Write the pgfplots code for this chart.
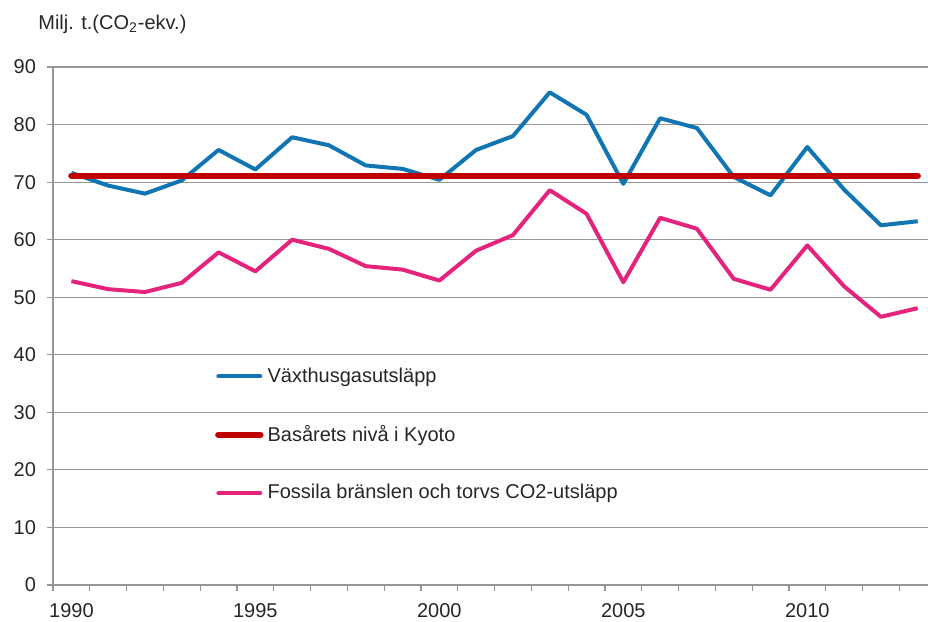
\documentclass[border=0pt]{standalone}
\usepackage{fontspec}
\setmainfont{Liberation Sans}
\usepackage{pgfplots}
\pgfplotsset{compat=1.18}

\definecolor{vxblue}{RGB}{16,117,178}
\definecolor{kyred}{RGB}{192,0,0}
\definecolor{fospink}{RGB}{228,36,124}
\definecolor{gridgray}{RGB}{150,150,150}

\begin{document}
\begin{tikzpicture}
\begin{axis}[
  name=ax,
  scale only axis,
  width=437.5pt, height=259pt,
  xmin=1989.5, xmax=2013.28,
  ymin=0, ymax=90,
  axis lines*=left,
  axis line style={gridgray, line width=0.6pt},
  xtick={1990,1995,2000,2005,2010},
  minor xtick={1989.5,1990.5,...,2012.5},
  ytick={0,10,...,90},
  xticklabel style={/pgf/number format/1000 sep={}, yshift=-2.5pt},
  yticklabel style={xshift=-2pt},
  tick align=outside,
  xtick pos=bottom, ytick pos=left,
  major x tick style={draw=none},
  minor x tick style={gridgray, line width=0.6pt},
  y tick style={gridgray, line width=0.6pt},
  major tick length=3pt, minor tick length=3pt,
  ymajorgrids,
  major grid style={gridgray, line width=0.6pt},
  tick label style={font=\fontsize{10}{12}\selectfont, text=black!85},
  /pgf/number format/assume math mode=true,
  clip=false,
  legend style={at={(rel axis cs:0.178,0.29)}, anchor=west, draw=none, fill=none,
    font=\fontsize{10}{12}\selectfont, row sep=16pt, text=black!85},
  legend cell align=left,
  legend image code/.code={\draw[#1, line cap=round] (0pt,0pt) -- (21pt,0pt);},
]
\addplot[vxblue, line width=2pt, line join=round] coordinates {
(1990,71.6) (1991,69.4) (1992,68.0) (1993,70.3) (1994,75.6) (1995,72.2)
(1996,77.8) (1997,76.4) (1998,72.9) (1999,72.3) (2000,70.4) (2001,75.6)
(2002,78.0) (2003,85.6) (2004,81.7) (2005,69.7) (2006,81.1) (2007,79.4)
(2008,70.9) (2009,67.7) (2010,76.1) (2011,68.7) (2012,62.5) (2013,63.2)
};
\addlegendentry{Växthusgasutsläpp}
\addplot[kyred, line width=3.2pt, line cap=round] coordinates {
(1990,71.1) (2013,71.1)
};
\addlegendentry{Basårets nivå i Kyoto}
\addplot[fospink, line width=2pt, line join=round] coordinates {
(1990,52.8) (1991,51.4) (1992,50.9) (1993,52.5) (1994,57.8) (1995,54.5)
(1996,60.0) (1997,58.4) (1998,55.4) (1999,54.8) (2000,52.9) (2001,58.1)
(2002,60.8) (2003,68.6) (2004,64.5) (2005,52.6) (2006,63.8) (2007,61.9)
(2008,53.2) (2009,51.3) (2010,59.0) (2011,51.9) (2012,46.6) (2013,48.1)
};
\addlegendentry{Fossila bränslen och torvs CO2-utsläpp}
\end{axis}
\node[anchor=base west, inner sep=0pt, font=\fontsize{10}{12}\selectfont, text=black!85]
  at ([xshift=-7.5pt, yshift=277.5pt]ax.south west) {Milj. t.(CO\textsubscript{2}-ekv.)};
\pgfresetboundingbox
\path[use as bounding box] ([xshift=-26.5pt, yshift=-18.5pt]ax.south west) rectangle ++(464pt,311pt);
\end{tikzpicture}
\end{document}
